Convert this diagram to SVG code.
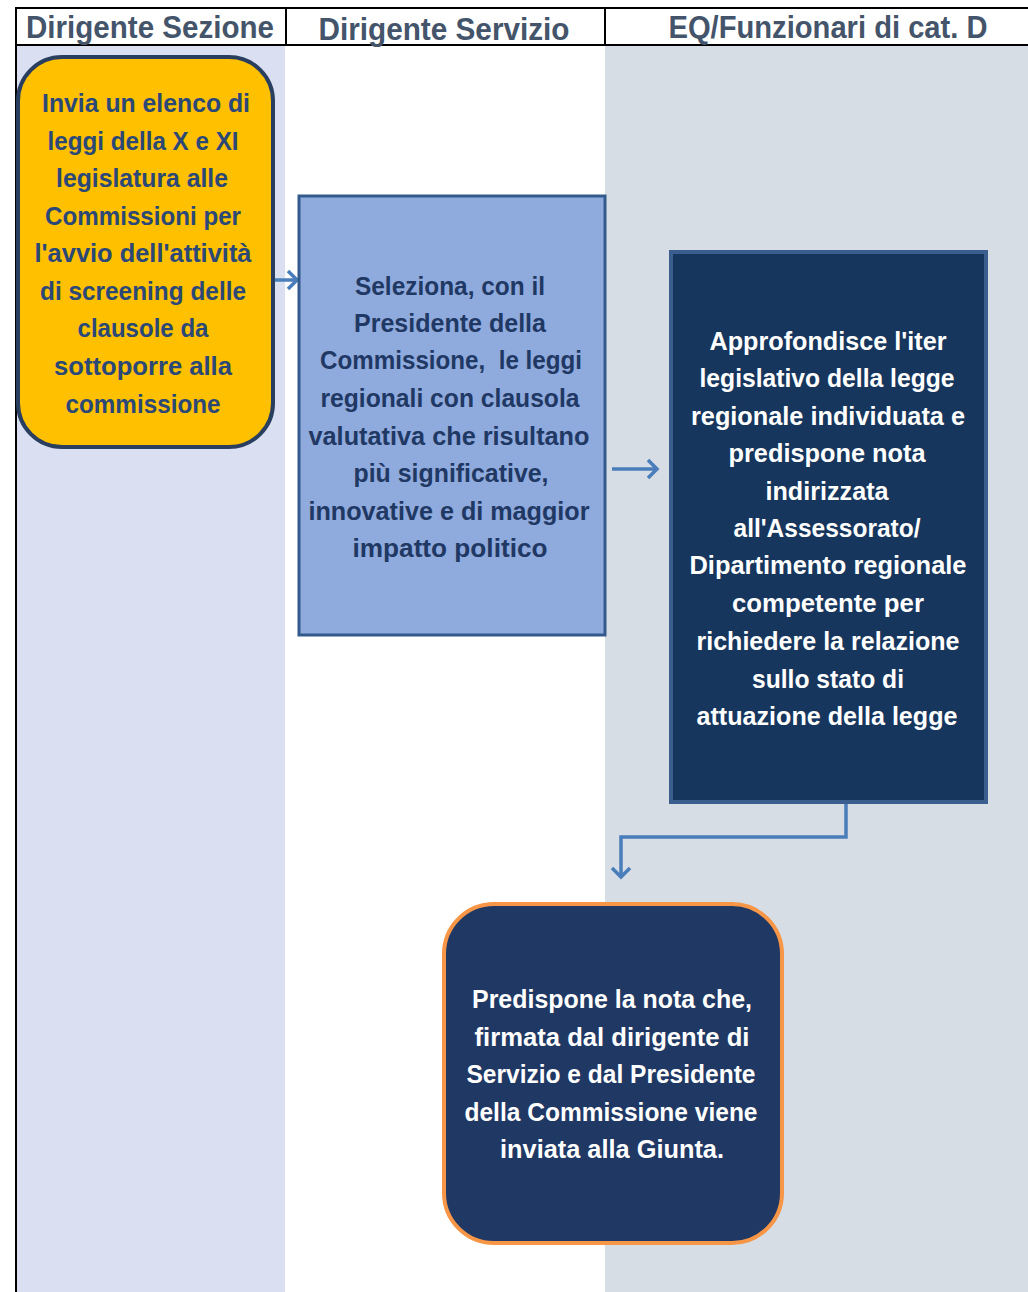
<svg xmlns="http://www.w3.org/2000/svg" width="1028" height="1292" viewBox="0 0 1028 1292">
<style>
.hdr{font-family:"Liberation Sans",Arial,sans-serif;font-weight:bold;font-size:31px;fill:#44546a;text-anchor:middle}
.t{font-family:"Liberation Sans",Arial,sans-serif;font-weight:bold;font-size:26px;text-anchor:middle}
.t1{fill:#2b4876}
.t2{fill:#1f3864}
.tw{fill:#ffffff}
.grid{stroke:#000;stroke-width:2;fill:none}
.conn{stroke:#4a7ebb;stroke-width:3.5;fill:none;stroke-linejoin:miter}
</style>
<rect x="0" y="0" width="1028" height="1292" fill="#ffffff"/>
<g id="lanes">
<rect x="17" y="46" width="268" height="1246" fill="#dae0f2"/>
<rect x="605" y="46" width="423" height="1246" fill="#d6dde5"/>
<line class="grid" x1="16" y1="8" x2="1028" y2="8"/>
<line class="grid" x1="16" y1="45" x2="1028" y2="45"/>
<line class="grid" x1="16" y1="7" x2="16" y2="1292"/>
<line class="grid" x1="286" y1="8" x2="286" y2="45"/>
<line class="grid" x1="605" y1="8" x2="605" y2="45"/>
<text class="hdr" x="150" y="38" textLength="248" lengthAdjust="spacingAndGlyphs">Dirigente Sezione</text>
<text class="hdr" x="444" y="40" textLength="251" lengthAdjust="spacingAndGlyphs">Dirigente Servizio</text>
<text class="hdr" x="828" y="38" textLength="319" lengthAdjust="spacingAndGlyphs">EQ/Funzionari di cat. D</text>
</g>
<g id="connectors">
<line class="conn" x1="274" y1="280" x2="297" y2="280"/>
<polyline class="conn" points="288,271 297,280 288,289"/>
<line class="conn" x1="612" y1="469" x2="657" y2="469"/>
<polyline class="conn" points="648,460 657,469 648,478"/>
<polyline class="conn" points="846,802 846,837 621,837 621,877"/>
<polyline class="conn" points="612,868 621,877 630,868"/>
</g>
<g id="node1">
<rect x="18" y="57" width="255" height="390" rx="44" ry="44" fill="#ffc000" stroke="#2a3f5f" stroke-width="4"/>
<text class="t t1" x="146" y="112" textLength="208" lengthAdjust="spacingAndGlyphs">Invia un elenco di</text>
<text class="t t1" x="143" y="150" textLength="191" lengthAdjust="spacingAndGlyphs">leggi della X e XI</text>
<text class="t t1" x="142" y="187" textLength="172" lengthAdjust="spacingAndGlyphs">legislatura alle</text>
<text class="t t1" x="143" y="225" textLength="196" lengthAdjust="spacingAndGlyphs">Commissioni per</text>
<text class="t t1" x="143" y="262" textLength="217" lengthAdjust="spacingAndGlyphs">l'avvio dell'attività</text>
<text class="t t1" x="143" y="300" textLength="206" lengthAdjust="spacingAndGlyphs">di screening delle</text>
<text class="t t1" x="143" y="337" textLength="131" lengthAdjust="spacingAndGlyphs">clausole da</text>
<text class="t t1" x="143" y="375" textLength="178" lengthAdjust="spacingAndGlyphs">sottoporre alla</text>
<text class="t t1" x="143" y="413" textLength="155" lengthAdjust="spacingAndGlyphs">commissione</text>
</g>
<g id="node2">
<rect x="299" y="196" width="306" height="439" fill="#8faadc" stroke="#335a8c" stroke-width="3"/>
<text class="t t2" x="450" y="295" textLength="190" lengthAdjust="spacingAndGlyphs">Seleziona, con il</text>
<text class="t t2" x="450" y="332" textLength="192" lengthAdjust="spacingAndGlyphs">Presidente della</text>
<text class="t t2" x="451" y="369" textLength="262" lengthAdjust="spacingAndGlyphs" xml:space="preserve" style="white-space:pre">Commissione,  le leggi</text>
<text class="t t2" x="450" y="407" textLength="259" lengthAdjust="spacingAndGlyphs">regionali con clausola</text>
<text class="t t2" x="449" y="445" textLength="281" lengthAdjust="spacingAndGlyphs">valutativa che risultano</text>
<text class="t t2" x="451" y="482" textLength="195" lengthAdjust="spacingAndGlyphs">più significative,</text>
<text class="t t2" x="449" y="520" textLength="281" lengthAdjust="spacingAndGlyphs">innovative e di maggior</text>
<text class="t t2" x="450" y="557" textLength="195" lengthAdjust="spacingAndGlyphs">impatto politico</text>
</g>
<g id="node3">
<rect x="671" y="252" width="315" height="550" fill="#17365d" stroke="#3a5f8e" stroke-width="4"/>
<text class="t tw" x="828" y="350" textLength="237" lengthAdjust="spacingAndGlyphs">Approfondisce l'iter</text>
<text class="t tw" x="827" y="387" textLength="255" lengthAdjust="spacingAndGlyphs">legislativo della legge</text>
<text class="t tw" x="828" y="425" textLength="274" lengthAdjust="spacingAndGlyphs">regionale individuata e</text>
<text class="t tw" x="827" y="462" textLength="197" lengthAdjust="spacingAndGlyphs">predispone nota</text>
<text class="t tw" x="827" y="500" textLength="123" lengthAdjust="spacingAndGlyphs">indirizzata</text>
<text class="t tw" x="827" y="537" textLength="187" lengthAdjust="spacingAndGlyphs">all'Assessorato/</text>
<text class="t tw" x="828" y="574" textLength="277" lengthAdjust="spacingAndGlyphs">Dipartimento regionale</text>
<text class="t tw" x="828" y="612" textLength="192" lengthAdjust="spacingAndGlyphs">competente per</text>
<text class="t tw" x="828" y="650" textLength="263" lengthAdjust="spacingAndGlyphs">richiedere la relazione</text>
<text class="t tw" x="828" y="688" textLength="152" lengthAdjust="spacingAndGlyphs">sullo stato di</text>
<text class="t tw" x="827" y="725" textLength="261" lengthAdjust="spacingAndGlyphs">attuazione della legge</text>
</g>
<g id="node4">
<rect x="444" y="904" width="338" height="339" rx="50" ry="50" fill="#203864" stroke="#f79646" stroke-width="4"/>
<text class="t tw" x="612" y="1008" textLength="280" lengthAdjust="spacingAndGlyphs">Predispone la nota che,</text>
<text class="t tw" x="612" y="1046" textLength="275" lengthAdjust="spacingAndGlyphs">firmata dal dirigente di</text>
<text class="t tw" x="611" y="1083" textLength="289" lengthAdjust="spacingAndGlyphs">Servizio e dal Presidente</text>
<text class="t tw" x="611" y="1121" textLength="293" lengthAdjust="spacingAndGlyphs">della Commissione viene</text>
<text class="t tw" x="612" y="1158" textLength="224" lengthAdjust="spacingAndGlyphs">inviata alla Giunta.</text>
</g>
</svg>
